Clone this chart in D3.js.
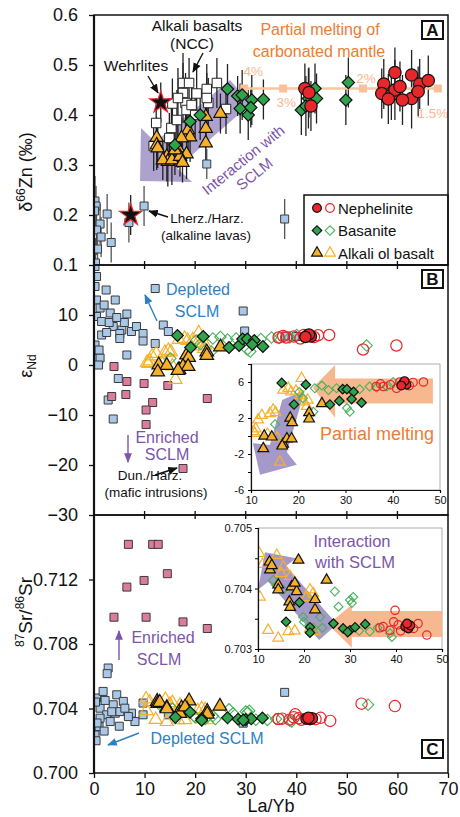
<!DOCTYPE html>
<html>
<head>
<meta charset="utf-8">
<script src="https://cdn.jsdelivr.net/npm/d3@7"></script>
<style>
body { margin: 0; background: #fff; }
text { font-family: "Liberation Sans", Arial, sans-serif; }
</style>
</head>
<body>
<svg id="chart" width="460" height="817"></svg>
<script>
// ---- data: [La/Yb, value, error] ----
// panel A, d66Zn
var znLherz = [[0.2,0.228,0.05],[0.4,0.218,0.04],[0.1,0.208,0.05],[1.2,0.182,0.04],[0.5,0.17,0.05],[1.4,0.156,0.04],
  [0.7,0.132,0.04],[0.3,0.104,0.05],[2.6,0.202,0.04],[3.4,0.145,0.04],[6.9,0.185,0.04],[9.9,0.218,0.04],[22.3,0.302,0.03],[37.7,0.192,0.04]];
var znWehr = [[13.2,0.425,0.04],[7.25,0.2,0.04]];
var znNCC = [[17.6,0.464,0.06],[18.8,0.464,0.05],[24.3,0.464,0.05],[22.3,0.452,0.05],[17.6,0.444,0.06],[20.3,0.443,0.05],
  [15.5,0.423,0.05],[18.1,0.424,0.06],[22.6,0.424,0.05],[22.3,0.434,0.05],[18.3,0.41,0.05],[16.6,0.434,0.06],[12.3,0.384,0.05],
  [15.3,0.374,0.05],[14.9,0.354,0.05],[11.8,0.338,0.05],[26.1,0.412,0.05],[16.4,0.39,0.06],[20.0,0.40,0.05],[19.3,0.42,0.05]];
var znAOB = [[12.4,0.355,0.04],[12.4,0.34,0.05],[12.6,0.334,0.04],[14.4,0.317,0.05],[14.6,0.307,0.05],[13.6,0.31,0.04],
  [15.4,0.31,0.05],[16.6,0.334,0.04],[18.3,0.322,0.05],[17.0,0.317,0.04],[18.6,0.37,0.04],[19.0,0.356,0.05],[17.3,0.354,0.04],
  [22.1,0.397,0.04],[22.1,0.373,0.04],[22.1,0.344,0.04],[25.0,0.403,0.04],[16.0,0.33,0.05],[17.5,0.305,0.04]];
var znBas = [[19.0,0.387,0.04],[21.0,0.40,0.05],[16.0,0.34,0.04],[26.4,0.452,0.05],[28.4,0.438,0.04],[29.3,0.44,0.05],
  [31.2,0.43,0.05],[33.5,0.431,0.04],[28.9,0.413,0.05],[30.5,0.40,0.05],[31.0,0.415,0.04],[41.0,0.41,0.05],[42.4,0.433,0.06],
  [43.7,0.453,0.05],[44.0,0.433,0.05],[41.9,0.418,0.06],[50.3,0.465,0.05],[49.8,0.43,0.05]];
var znNeph = [[41.7,0.453,0.05],[42.5,0.445,0.05],[42.9,0.418,0.05],[59.5,0.485,0.05],[57.3,0.462,0.05],[56.9,0.443,0.05],
  [58.8,0.44,0.05],[59.5,0.45,0.06],[60.5,0.457,0.05],[62.8,0.48,0.05],[62.8,0.433,0.06],[64.4,0.462,0.05],[64.1,0.447,0.05],
  [66.1,0.469,0.05],[58.2,0.432,0.05],[61.0,0.43,0.05]];
var meltX = [29.7, 37.4, 53.2, 68];
var meltLabels = ["4%", "3%", "2%", "1.5%"];
var meltZn = 0.453;

// panel B, eNd
var ndLherz = [[0.2,19.7],[0.5,17.7],[0.2,15.7],[2.4,15],[0.5,13],[4.2,13],[1.2,11.4],[3.2,10.4],[6.5,10.2],[0.5,9.7],
  [1.5,8.7],[3.8,7.7],[5.5,7],[7.4,6.7],[8.4,7.7],[9.7,6.3],[9.7,4.8],[5.1,6.3],[5.1,5.3],[1.5,6],[0.2,4],[0.2,1.3],
  [1.2,1.4],[0.9,0],[6.5,2],[12.1,4.3],[13.7,8],[14.7,6.7],[12.1,15.3],[4.8,-2.7],[2.8,-7],[3.8,-10.8],[29.5,10.8],
  [29.8,6.8],[37.9,5.8],[40,5.7],[2.0,12],[3.0,8.5],[6.0,8.5],[2.5,6.5],[1.0,3],[4.5,9.5]];
var ndDun = [[3.95,-0.3],[3.5,-6.3],[6.5,-3.3],[6.3,-5.9],[9.9,-3.7],[11.6,-7.5],[10.3,-9],[10.3,-11.9],[14.6,-4.1],[22.4,-6.7],[17.6,-20.7]];
var ndAOB = [[25,3.6],[22.3,2.6],[22.3,1.9],[18.3,2.0],[18.7,1.5],[12.8,0.0],[14.4,-0.1],[12.6,-1.4],[16.8,-0.9],[17.6,-0.3],[18.6,-0.3],[16.6,-1.1]];
var ndAOBo = [[10.8,0.3],[11.5,1.8],[12.3,2.3],[14.7,2.9],[15.2,2.6],[17.9,5.3],[16.8,5.1],[20.7,6.4],[16.1,-2.9],[21.1,3.8],
  [11.0,0.8],[13.5,0.2],[15.5,-0.2],[20.5,4.5],[21.8,3.3],[18.5,4.9],[14.0,2.5],[19.5,5.0],[22.0,4.0],[10.5,0.5]];
var ndBas = [[16.5,5.9],[21.6,5.7],[19.1,3.5],[26.7,3.5],[28.7,3.9],[29.4,5.2],[30.3,5.2],[31.7,4.9],[31.3,4.1],[33.4,3.7]];
var ndBaso = [[15.1,1.3],[20.2,4.9],[23.5,5.3],[26.4,5.1],[28.1,5.3],[30.3,3.1],[30.9,2.7],[36.6,5.4],[38.7,5.5],[40.1,6.0],
  [23.2,2.7],[35.1,5.5],[53.9,3.9],[25,5.6],[33,5.2],[21,4.2]];
var ndNeph = [[42.2,5.9],[42.9,5.7],[42.5,6.1],[41.8,5.6]];
var ndNepho = [[38,5.5],[41.5,6.0],[44.3,5.95],[46.5,6.0],[40.8,5.3],[37.4,5.8],[39.5,5.7],[43.5,5.6],[53.2,3.1],[59.8,3.9],[36.5,5.5]];

// panel C, 87Sr/86Sr
var srLherz = [[0.2,0.70236],[0.2,0.70288],[0.5,0.70465],[1.8,0.70506],[4.5,0.70485],[5.8,0.70444],[3.8,0.70423],[1.2,0.70402],
  [2.5,0.70361],[4.2,0.70371],[5.1,0.70381],[7.4,0.70371],[8.1,0.70319],[9.7,0.70361],[1.2,0.7034],[3.2,0.70319],[1.0,0.70288],
  [6.1,0.70402],[2.8,0.70651],[2.6,0.70616],[37.7,0.705],[29.5,0.70309],[9.7,0.70434],[14.7,0.70361],[0.3,0.7044],[2.2,0.7045],
  [3.5,0.7038],[0.6,0.7031],[2.0,0.7026],[0.4,0.7020],[6.8,0.7035],[5.0,0.7029]];
var srDun = [[6.8,0.71418],[11.6,0.71418],[12.7,0.71418],[6.5,0.71153],[9.9,0.71194],[14.5,0.71236],[3.95,0.70966],[10.3,0.70966],[17.6,0.70937],[22.4,0.70896]];
var srAOB = [[12.5,0.70444],[12.6,0.70431],[13.0,0.70438],[14.4,0.70406],[14.4,0.70398],[18.8,0.70447],[17.3,0.70403],[18.4,0.70395],
  [16.8,0.70378],[17.0,0.70369],[22.4,0.70382],[22.4,0.70365],[24.9,0.70414],[18.0,0.70409]];
var srAOBo = [[10.3,0.70458],[10.4,0.70386],[14.1,0.70455],[15.5,0.70436],[12.2,0.70331],[14.4,0.70318],[16.6,0.70329],[21.3,0.70398],
  [22.0,0.70392],[22.4,0.70329],[21.3,0.70334],[11.0,0.7044],[15.0,0.70425],[18.0,0.7033],[17.0,0.7042],[20.5,0.70385]];
var srBas = [[16.1,0.70345],[19.0,0.70377],[21.3,0.70336],[21.3,0.70327],[26.4,0.70342],[28.5,0.70334],[30.0,0.70331],[31.1,0.70336],[33.3,0.70341],[29.5,0.70328]];
var srBaso = [[13.3,0.70414],[14.0,0.70405],[15.5,0.70398],[19.8,0.70353],[23.5,0.70353],[26.7,0.70395],[27.5,0.7037],[30.0,0.70381],
  [30.7,0.70386],[30.4,0.70376],[34.3,0.70329],[38.7,0.70326],[39.1,0.7032],[20.0,0.70345],[24.0,0.70335],[36.0,0.70335],
  [54.2,0.70423],[32.0,0.7033],[22.0,0.70335]];
var srNeph = [[42.0,0.70337],[42.7,0.70334],[43.1,0.70339],[42.4,0.70342]];
var srNepho = [[39.8,0.70364],[37.2,0.70337],[38.7,0.70331],[40.5,0.7034],[44.8,0.70342],[46.7,0.70323],[43.8,0.70334],[41.0,0.7033],
  [39.5,0.70345],[52.9,0.7043],[59.5,0.70415],[36.5,0.70335]];

// trend arrows (outline points in data units)
var arrowA = [[9.3,0.374],[12.1,0.346],[26.9,0.47],[31.0,0.422],[16.4,0.294],[19.4,0.266],[9.1,0.268]];
var arrowBPurple = [[16.6,4.0],[21.4,5.1],[17.6,-1.8],[19.7,-3.2],[11.9,-4.3],[10.4,-0.8],[14.0,-1.0]];
var arrowBOrange = [[23.1,5.4],[27.8,7.9],[27.8,6.4],[48.5,6.4],[48.5,3.6],[27.8,3.6],[27.8,2.0]];
var arrowCPurple = [[11.5,0.70460],[18.3,0.70450],[16.1,0.70437],[27.2,0.70341],[23.3,0.70315],[12.2,0.70411],[10.0,0.70398]];
var arrowCOrange = [[25.2,0.70341],[30.4,0.70373],[30.4,0.70363],[50,0.70363],[50,0.70320],[30.4,0.70320],[30.4,0.70302]];

// ---- layout ----
var svg = d3.select("#chart");
var L = 94, R = 448;
var x = d3.scaleLinear().domain([0, 70]).range([L, R]);
var yA = d3.scaleLinear().domain([0.1, 0.6]).range([265, 15]);
var yB = d3.scaleLinear().domain([-30, 20]).range([515, 265]);
var yC = d3.scaleLinear().domain([0.700, 0.716]).range([773, 515]);
var xiB = d3.scaleLinear().domain([10, 50]).range([251, 440]);
var yiB = d3.scaleLinear().domain([-6, 8]).range([490, 364]);
var xiC = d3.scaleLinear().domain([10, 50]).range([258, 442]);
var yiC = d3.scaleLinear().domain([0.703, 0.705]).range([649, 528]);

var orange = "#ED7D31", purple = "#7B55A8", blue = "#2E7FC3";

var defs = svg.append("defs");
function marker(id, col) {
  defs.append("marker").attr("id", id).attr("viewBox", "0 0 10 10").attr("refX", 9).attr("refY", 5)
    .attr("markerWidth", 7).attr("markerHeight", 7).attr("orient", "auto-start-reverse")
    .append("path").attr("d", "M0,1L10,5L0,9z").attr("fill", col);
}
marker("mk", "#111"); marker("mb", blue); marker("mp", purple);

function clip(id, x0, y0, w, h) {
  defs.append("clipPath").attr("id", id).append("rect").attr("x", x0).attr("y", y0).attr("width", w).attr("height", h);
}
clip("cA", L, 15, R - L, 250); clip("cB", L, 265, R - L, 250); clip("cC", L, 515, R - L, 258);
clip("ciB", 251, 364, 189, 126); clip("ciC", 258, 528, 184, 121);

function symPath(shape, size) {
  var t = shape == "circle" ? d3.symbolCircle : shape == "triangle" ? d3.symbolTriangle :
          shape == "star" ? d3.symbolStar : d3.symbolSquare;
  return d3.symbol(t, size)();
}
function pts(g, data, xs, ys, st, size) {
  g.append("g").selectAll("path").data(data).join("path")
    .attr("d", symPath(st.shape, size))
    .attr("transform", function(d) { return "translate(" + xs(d[0]) + "," + ys(d[1]) + ")" + (st.shape == "diamond" ? " rotate(45)" : ""); })
    .attr("fill", st.fill).attr("stroke", st.stroke).attr("stroke-width", st.sw);
}
function errs(g, data, col) {
  g.append("g").selectAll("line").data(data).join("line")
    .attr("x1", function(d) { return x(d[0]); }).attr("x2", function(d) { return x(d[0]); })
    .attr("y1", function(d) { return yA(d[1] - d[2]); }).attr("y2", function(d) { return yA(d[1] + d[2]); })
    .attr("stroke", col).attr("stroke-width", 1.3);
}
function poly(g, data, xs, ys, col, op) {
  g.append("path").attr("d", d3.line().x(function(d) { return xs(d[0]); }).y(function(d) { return ys(d[1]); })(data) + "Z")
    .attr("fill", col).attr("opacity", op);
}
function txt(g, xp, yp, s, size, col, anchor) {
  return g.append("text").attr("x", xp).attr("y", yp).attr("font-size", size).attr("fill", col || "#111")
    .attr("text-anchor", anchor || "middle").text(s);
}
function arrow(g, x1, y1, x2, y2, col, mk) {
  g.append("line").attr("x1", x1).attr("y1", y1).attr("x2", x2).attr("y2", y2)
    .attr("stroke", col).attr("stroke-width", 1.4).attr("marker-end", "url(#" + mk + ")");
}

var st = {
  blue: {shape: "square", fill: "#A9C8E8", stroke: "#3b3b3b", sw: 1},
  pink: {shape: "square", fill: "#DD7C9A", stroke: "#3b3b3b", sw: 1},
  white: {shape: "square", fill: "#fff", stroke: "#222", sw: 1},
  tri: {shape: "triangle", fill: "#F6B12A", stroke: "#111", sw: 1.2},
  triO: {shape: "triangle", fill: "none", stroke: "#F7B02C", sw: 1.2},
  dia: {shape: "diamond", fill: "#2FA34C", stroke: "#111", sw: 1.2},
  diaO: {shape: "diamond", fill: "none", stroke: "#45B358", sw: 1.1},
  red: {shape: "circle", fill: "#E8272B", stroke: "#111", sw: 1.2},
  redO: {shape: "circle", fill: "none", stroke: "#E8272B", sw: 1.2},
  star: {shape: "star", fill: "#111", stroke: "#E8272B", sw: 1.2}
};

// ---- panel A ----
var gA = svg.append("g").attr("clip-path", "url(#cA)");
poly(gA, arrowA, x, yA, "#A497C9", 0.9);
errs(gA, znLherz, "#555");
errs(gA, znNCC, "#222"); errs(gA, znAOB, "#222"); errs(gA, znBas, "#222"); errs(gA, znNeph, "#222"); errs(gA, znWehr, "#222");
gA.append("line").attr("x1", x(meltX[0])).attr("x2", x(meltX[3])).attr("y1", yA(meltZn)).attr("y2", yA(meltZn))
  .attr("stroke", "#F9C6A0").attr("stroke-width", 2.5);
gA.append("g").selectAll("rect").data(meltX).join("rect")
  .attr("x", function(d) { return x(d) - 4; }).attr("y", yA(meltZn) - 4).attr("width", 8).attr("height", 8).attr("fill", "#F9C09A");
pts(gA, znLherz, x, yA, st.blue, 64);
pts(gA, znNCC, x, yA, st.white, 90);
pts(gA, znAOB, x, yA, st.tri, 75);
pts(gA, znBas, x, yA, st.dia, 75);
pts(gA, znNeph, x, yA, st.red, 120);
pts(gA, znWehr, x, yA, st.star, 150);

var mlOff = [[9, -13], [3, 18], [3, -6], [-5, 29]];
meltX.forEach(function(v, i) {
  txt(svg, x(v) + mlOff[i][0], yA(meltZn) + mlOff[i][1], meltLabels[i], 13.5, "#F7B890");
});

// annotations A
txt(svg, 197, 31, "Alkali basalts", 15.5);
txt(svg, 192, 49, "(NCC)", 15.5);
arrow(svg, 203, 53, 193, 72, "#111", "mk");
txt(svg, 136, 71, "Wehrlites", 15.5);
arrow(svg, 148, 76, 158, 93, "#111", "mk");
txt(svg, 320, 35, "Partial melting of", 16, orange);
txt(svg, 319, 57, "carbonated mantle", 16, orange);
txt(svg, 207, 223, "Lherz./Harz.", 13.5);
txt(svg, 206, 240, "(alkaline lavas)", 13.5);
arrow(svg, 168, 217, 149, 211, "#111", "mk");
var rot = svg.append("g").attr("transform", "translate(249,167) rotate(-39)");
txt(rot, 0, -4, "Interaction with", 15, purple);
txt(rot, 0, 14, "SCLM", 15, purple);

// legend
var lg = svg.append("g");
lg.append("rect").attr("x", 304).attr("y", 195).attr("width", 144).attr("height", 70).attr("fill", "#fff").attr("stroke", "#111").attr("stroke-width", 1.5);
var legRows = [["Nephelinite", st.red, st.redO, 60], ["Basanite", st.dia, st.diaO, 45], ["Alkali ol basalt", st.tri, st.triO, 50]];
legRows.forEach(function(r, i) {
  var yy = 208 + i * 22.5;
  pts(lg, [[0, 0]], function() { return 317; }, function() { return yy; }, r[1], r[3]);
  pts(lg, [[0, 0]], function() { return 330; }, function() { return yy; }, r[2], r[3]);
  txt(lg, 338, yy + 5.5, r[0], 15, "#111", "start");
});

// ---- panel B ----
var gB = svg.append("g").attr("clip-path", "url(#cB)");
pts(gB, ndLherz, x, yB, st.blue, 64);
pts(gB, ndDun, x, yB, st.pink, 64);
pts(gB, ndAOBo, x, yB, st.triO, 75);
pts(gB, ndBaso, x, yB, st.diaO, 65);
pts(gB, ndNepho, x, yB, st.redO, 100);
pts(gB, ndAOB, x, yB, st.tri, 80);
pts(gB, ndBas, x, yB, st.dia, 70);
pts(gB, ndNeph, x, yB, st.red, 100);

txt(svg, 198, 295, "Depleted", 16, blue);
txt(svg, 197, 317, "SCLM", 16, blue);
arrow(svg, 157, 321, 145, 295, blue, "mb");
txt(svg, 167, 443, "Enriched", 16, purple);
txt(svg, 167, 460, "SCLM", 16, purple);
arrow(svg, 128, 435, 128, 462, purple, "mp");
txt(svg, 150, 480, "Dun./Harz.", 13.5);
txt(svg, 156, 497, "(mafic intrusions)", 13.5);
arrow(svg, 155, 475, 177, 468, "#111", "mk");

// inset B
var iB = svg.append("g");
iB.append("rect").attr("x", 251).attr("y", 364).attr("width", 189).attr("height", 126).attr("fill", "#fff").attr("stroke", "#999").attr("stroke-width", 0.8);
var iBc = iB.append("g").attr("clip-path", "url(#ciB)");
poly(iBc, arrowBOrange, xiB, yiB, "#F7B48A", 0.95);
poly(iBc, arrowBPurple, xiB, yiB, "#A093C6", 0.95);
pts(iBc, ndAOBo, xiB, yiB, st.triO, 50);
pts(iBc, ndBaso, xiB, yiB, st.diaO, 40);
pts(iBc, ndNepho, xiB, yiB, st.redO, 55);
pts(iBc, ndAOB, xiB, yiB, st.tri, 50);
pts(iBc, ndBas, xiB, yiB, st.dia, 45);
pts(iBc, ndNeph, xiB, yiB, st.red, 60);
txt(iB, 377, 440, "Partial melting", 18, orange);
var axiB = iB.append("g").attr("transform", "translate(251,0)")
  .call(d3.axisLeft(yiB).tickValues([-6, -4, -2, 0, 2, 4, 6, 8]).tickSize(3).tickPadding(4)
    .tickFormat(function(d) { return [-6, -2, 2, 6].indexOf(d) >= 0 ? d : ""; }));
var axiBx = iB.append("g").attr("transform", "translate(0,490)")
  .call(d3.axisBottom(xiB).tickValues([10, 20, 30, 40, 50]).tickSize(3).tickPadding(3));
[axiB, axiBx].forEach(function(a) {
  a.select(".domain").attr("stroke", "#111").attr("stroke-width", 1.2);
  a.selectAll("text").attr("font-size", 11).attr("font-family", "Liberation Sans, Arial, sans-serif").attr("fill", "#111");
});

// ---- panel C ----
var gC = svg.append("g").attr("clip-path", "url(#cC)");
pts(gC, srLherz, x, yC, st.blue, 64);
pts(gC, srDun, x, yC, st.pink, 64);
pts(gC, srAOBo, x, yC, st.triO, 75);
pts(gC, srBaso, x, yC, st.diaO, 65);
pts(gC, srNepho, x, yC, st.redO, 100);
pts(gC, srAOB, x, yC, st.tri, 80);
pts(gC, srBas, x, yC, st.dia, 70);
pts(gC, srNeph, x, yC, st.red, 100);

txt(svg, 163, 643, "Enriched", 16, purple);
txt(svg, 159, 665, "SCLM", 16, purple);
arrow(svg, 119, 660, 119, 631, purple, "mp");
txt(svg, 207, 744, "Depleted SCLM", 16, blue);
arrow(svg, 139, 733, 108, 745, blue, "mb");

// inset C
var iC = svg.append("g");
iC.append("rect").attr("x", 258).attr("y", 528).attr("width", 184).attr("height", 121).attr("fill", "#fff").attr("stroke", "#999").attr("stroke-width", 0.8);
var iCc = iC.append("g").attr("clip-path", "url(#ciC)");
poly(iCc, arrowCOrange, xiC, yiC, "#F7B48A", 0.95);
poly(iCc, arrowCPurple, xiC, yiC, "#A093C6", 0.95);
pts(iCc, srAOBo, xiC, yiC, st.triO, 50);
pts(iCc, srBaso, xiC, yiC, st.diaO, 40);
pts(iCc, srNepho, xiC, yiC, st.redO, 55);
pts(iCc, srAOB, xiC, yiC, st.tri, 50);
pts(iCc, srBas, xiC, yiC, st.dia, 45);
pts(iCc, srNeph, xiC, yiC, st.red, 60);
txt(iC, 352, 547, "Interaction", 16.5, purple);
txt(iC, 355, 568, "with SCLM", 16.5, purple);
var axiC = iC.append("g").attr("transform", "translate(258,0)")
  .call(d3.axisLeft(yiC).tickValues([0.703, 0.7035, 0.704, 0.7045, 0.705]).tickSize(3).tickPadding(3)
    .tickFormat(function(d) { return [0.703, 0.704, 0.705].indexOf(d) >= 0 ? d3.format(".3f")(d) : ""; }));
var axiCx = iC.append("g").attr("transform", "translate(0,649)")
  .call(d3.axisBottom(xiC).tickValues([10, 20, 30, 40, 50]).tickSize(3).tickPadding(3));
[axiC, axiCx].forEach(function(a) {
  a.select(".domain").attr("stroke", "#111").attr("stroke-width", 1.2);
  a.selectAll("text").attr("font-size", 11).attr("font-family", "Liberation Sans, Arial, sans-serif").attr("fill", "#111");
});

// ---- frames and main axes ----
[[15, 265], [265, 515], [515, 773]].forEach(function(p) {
  svg.append("rect").attr("x", L).attr("y", p[0]).attr("width", R - L).attr("height", p[1] - p[0])
    .attr("fill", "none").attr("stroke", "#111").attr("stroke-width", 1.5);
});
svg.append("line").attr("x1", L).attr("x2", L).attr("y1", 15).attr("y2", 773).attr("stroke", "#111").attr("stroke-width", 2.2);

function styleAxis(a) {
  a.select(".domain").remove();
  a.selectAll("line").attr("stroke", "#111").attr("stroke-width", 1.3);
  a.selectAll("text").attr("font-size", 18).attr("font-family", "Liberation Sans, Arial, sans-serif").attr("fill", "#111");
}
styleAxis(svg.append("g").attr("transform", "translate(" + L + ",0)")
  .call(d3.axisLeft(yA).tickValues([0.1, 0.2, 0.3, 0.4, 0.5, 0.6]).tickFormat(d3.format(".1f")).tickSize(5).tickPadding(11)));
styleAxis(svg.append("g").attr("transform", "translate(" + L + ",0)")
  .call(d3.axisLeft(yB).tickValues([-30, -20, -10, 0, 10]).tickSize(5).tickPadding(11)));
styleAxis(svg.append("g").attr("transform", "translate(" + L + ",0)")
  .call(d3.axisLeft(yC).tickValues([0.700, 0.704, 0.708, 0.712]).tickFormat(d3.format(".3f")).tickSize(5).tickPadding(11)));
styleAxis(svg.append("g").attr("transform", "translate(0,773)")
  .call(d3.axisBottom(x).tickValues([0, 10, 20, 30, 40, 50, 60, 70]).tickSize(5).tickPadding(4)));
[265, 515].forEach(function(yy) {
  svg.append("g").selectAll("line").data([10, 20, 30, 40, 50, 60]).join("line")
    .attr("x1", function(d) { return x(d); }).attr("x2", function(d) { return x(d); })
    .attr("y1", yy - 4).attr("y2", yy + 4).attr("stroke", "#111").attr("stroke-width", 1.3);
});

// panel letters
["A", "B", "C"].forEach(function(s, i) {
  var yy = [21, 270, 740][i];
  svg.append("rect").attr("x", 422).attr("y", yy).attr("width", 21).attr("height", 18).attr("fill", "#fff").attr("stroke", "#111").attr("stroke-width", 2);
  txt(svg, 432.5, yy + 15, s, 17, "#111").attr("font-weight", "bold");
});

// axis titles
var t1 = svg.append("text").attr("transform", "translate(32,172) rotate(-90)").attr("text-anchor", "middle").attr("font-size", 18).attr("fill", "#111");
t1.append("tspan").text("\u03b4");
t1.append("tspan").attr("font-size", 12).attr("dy", -7).text("66");
t1.append("tspan").attr("dy", 7).text("Zn (\u2030)");
var t2 = svg.append("text").attr("transform", "translate(32,366) rotate(-90)").attr("text-anchor", "middle").attr("font-size", 18).attr("fill", "#111");
t2.append("tspan").text("\u03b5");
t2.append("tspan").attr("font-size", 12).attr("dy", 4).text("Nd");
var t3 = svg.append("text").attr("transform", "translate(32,612) rotate(-90)").attr("text-anchor", "middle").attr("font-size", 19).attr("fill", "#111");
t3.append("tspan").attr("font-size", 12).attr("dy", -8).text("87");
t3.append("tspan").attr("dy", 8).text("Sr/");
t3.append("tspan").attr("font-size", 12).attr("dy", -8).text("86");
t3.append("tspan").attr("dy", 8).text("Sr");
txt(svg, 271, 812, "La/Yb", 18);
</script>
</body>
</html>
